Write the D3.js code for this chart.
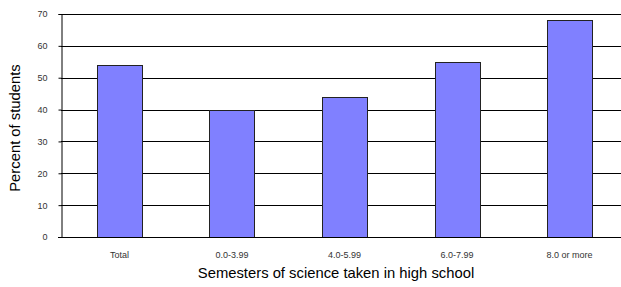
<!DOCTYPE html>
<html>
<head>
<meta charset="utf-8">
<script src="https://cdn.jsdelivr.net/npm/d3@7"></script>
<style>
html,body{margin:0;padding:0;background:#fff;}
svg{display:block;}
</style>
</head>
<body>
<svg id="chart" width="621" height="287"></svg>
<script>
const categories = ["Total", "0.0-3.99", "4.0-5.99", "6.0-7.99", "8.0 or more"];
const values = [54, 40, 44, 55, 68];
const yTicks = [0, 10, 20, 30, 40, 50, 60, 70];
const xTitle = "Semesters of science taken in high school";
const yTitle = "Percent of students";

const svg = d3.select("#chart");
const plot = {left: 61, right: 621, top: 14, bottom: 237};

const x = d3.scaleBand().domain(categories)
  .range([plot.left, plot.left + 5.04 * 112.5])
  .paddingInner(0.6).paddingOuter(0.32);
const y = d3.scaleLinear().domain([0, 70]).range([plot.bottom, plot.top]);

// gridlines
svg.append("g").selectAll("line").data(yTicks.filter(d => d > 0)).join("line")
  .attr("x1", plot.left).attr("x2", plot.right)
  .attr("y1", d => Math.round(y(d)) + 0.5).attr("y2", d => Math.round(y(d)) + 0.5)
  .attr("stroke", "#000").attr("stroke-width", 1);

// bars
svg.append("g").selectAll("rect").data(values).join("rect")
  .attr("x", (d, i) => Math.round(x(categories[i])) + 0.5)
  .attr("y", d => Math.round(y(d)) + 0.5)
  .attr("width", Math.round(x.bandwidth()))
  .attr("height", d => Math.round(y(0)) - Math.round(y(d)))
  .attr("fill", "#8080ff").attr("stroke", "#222").attr("stroke-width", 1);

// y axis
const yAxis = d3.axisLeft(y).tickValues(yTicks).tickSize(3).tickPadding(11);
const gy = svg.append("g").attr("transform", `translate(${plot.left + 0.5},0)`).call(yAxis);
gy.select(".domain").attr("stroke", "#000");
gy.selectAll(".tick line").attr("stroke", "#000");
gy.selectAll(".tick text").attr("font-family", "Liberation Sans, Arial, sans-serif")
  .attr("font-size", 9).attr("fill", "#333");

// x axis
const xAxis = d3.axisBottom(x).tickSize(0).tickPadding(14);
const gx = svg.append("g").attr("transform", `translate(0,${Math.round(y(0)) + 0.5})`).call(xAxis);
gx.select(".domain").remove();
svg.append("line").attr("x1", plot.left - 3).attr("x2", plot.right)
  .attr("y1", Math.round(y(0)) + 0.5).attr("y2", Math.round(y(0)) + 0.5)
  .attr("stroke", "#000");
gx.selectAll(".tick text").attr("font-family", "Liberation Sans, Arial, sans-serif")
  .attr("font-size", 9).attr("fill", "#333");

// titles
svg.append("text").attr("x", 336).attr("y", 278).attr("text-anchor", "middle")
  .attr("font-family", "Liberation Sans, Arial, sans-serif").attr("font-size", 14.8)
  .attr("fill", "#000").text(xTitle);
svg.append("text").attr("transform", `translate(20,128) rotate(-90)`).attr("text-anchor", "middle")
  .attr("font-family", "Liberation Sans, Arial, sans-serif").attr("font-size", 14.8)
  .attr("fill", "#000").text(yTitle);
</script>
</body>
</html>
